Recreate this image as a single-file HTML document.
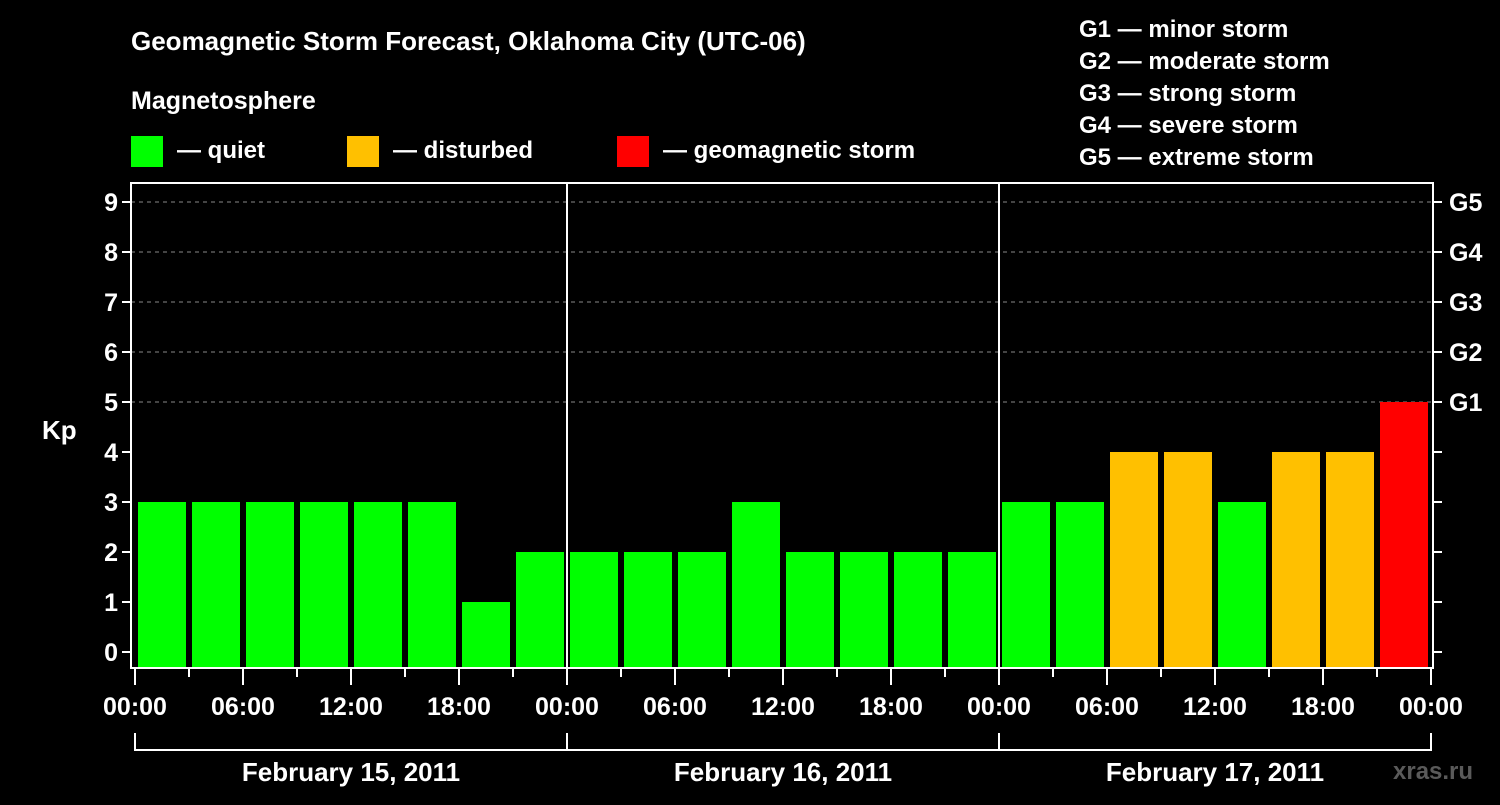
<!DOCTYPE html>
<html><head><meta charset="utf-8"><style>
body{margin:0;background:#000;width:1500px;height:800px;overflow:hidden}
svg text{font-family:"Liberation Sans",Arial,sans-serif;font-weight:bold;fill:#fff}
</style></head><body>
<svg id="c" width="1500" height="800">
<text x="131" y="50" font-size="26">Geomagnetic Storm Forecast, Oklahoma City (UTC-06)</text>
<text x="131" y="109" font-size="25">Magnetosphere</text>
<g>
<rect x="131" y="136" width="32" height="31" fill="#00ff00"/>
<text x="177" y="158" font-size="24">— quiet</text>
<rect x="347" y="136" width="32" height="31" fill="#ffc000"/>
<text x="393" y="158" font-size="24">— disturbed</text>
<rect x="617" y="136" width="32" height="31" fill="#ff0000"/>
<text x="663" y="158" font-size="24">— geomagnetic storm</text>
</g>
<g font-size="24">
<text x="1079" y="37">G1 — minor storm</text>
<text x="1079" y="69">G2 — moderate storm</text>
<text x="1079" y="101">G3 — strong storm</text>
<text x="1079" y="133">G4 — severe storm</text>
<text x="1079" y="165">G5 — extreme storm</text>
</g>
<text x="42" y="439" font-size="26">Kp</text>
<text x="1393" y="779" font-size="24" fill="#555" style="fill:#5a5a5a">xras.ru</text>
<g id="plot"></g>
</svg>
<script>
const days = ["February 15, 2011","February 16, 2011","February 17, 2011"];
const kpValues = [3,3,3,3,3,3,1,2, 2,2,2,3,2,2,2,2, 3,3,4,4,3,4,4,5];
const yTicks = [0,1,2,3,4,5,6,7,8,9];
const gLabels = ["G1","G2","G3","G4","G5"];
const xTickLabels = ["00:00","06:00","12:00","18:00"];

const NS="http://www.w3.org/2000/svg";
const plot=document.getElementById('plot');
const L=131,R=1433,T=183,B=668,X0=135,DAY=432;
const y=v=>652-50*v;
const x=i=>X0+i*DAY/8;
function mk(t,a,p){const e=document.createElementNS(NS,t);for(const k in a)e.setAttribute(k,a[k]);(p||plot).appendChild(e);return e;}

// grid dashed for 5..9
yTicks.forEach(v=>{
  if(v>=5){const g=mk('line',{x1:L,x2:R,y1:y(v),y2:y(v),stroke:'#888','stroke-dasharray':'4,4','stroke-width':1});
  
  }
});
// bars
kpValues.forEach((v,i)=>{
  const col=v>=5?'#ff0000':(v>=4?'#ffc000':'#00ff00');
  const r=mk('rect',{x:x(i)+3,y:y(v),width:48,height:B-1-y(v),fill:col});
  
  
});
// day separators
[1,2].forEach(d=>{const s=mk('line',{x1:X0+d*DAY,x2:X0+d*DAY,y1:T,y2:B,stroke:'#fff','stroke-width':2});

});
// frame
const f=mk('rect',{x:L,y:T,width:R-L,height:B-T,fill:'none',stroke:'#fff','stroke-width':2});


// y ticks left
yTicks.forEach(v=>{
  const l=mk('line',{x1:L-9,x2:L,y1:y(v),y2:y(v),stroke:'#fff','stroke-width':2});
  
  
  const t=mk('text',{x:L-13,y:y(v)+9,'font-size':25,'text-anchor':'end'});t.textContent=v;
  
  
  const r=mk('line',{x1:R,x2:R+9,y1:y(v),y2:y(v),stroke:'#fff','stroke-width':2});
  
  
  if(v>=5){const g=mk('text',{x:R+16,y:y(v)+9,'font-size':25});g.textContent=gLabels[v-5];
  
  }
});
// x ticks
for(let i=0;i<=24;i++){
  const major=i%2==0;
  const l=mk('line',{x1:x(i),x2:x(i),y1:B,y2:B+(major?17:9),stroke:'#fff','stroke-width':2});
  
  
  if(major){const t=mk('text',{x:x(i),y:715,'font-size':25,'text-anchor':'middle'});
  t.textContent=xTickLabels[(i/2)%4];
  
  }
}
// day brackets
const br=mk('line',{x1:X0,x2:X0+3*DAY,y1:750,y2:750,stroke:'#fff','stroke-width':2});


for(let d=0;d<=3;d++){const v=mk('line',{x1:X0+d*DAY,x2:X0+d*DAY,y1:733,y2:751,stroke:'#fff','stroke-width':2});

}
days.forEach((d,i)=>{const t=mk('text',{x:X0+DAY*i+DAY/2,y:781,'font-size':26,'text-anchor':'middle'});t.textContent=d;

});
</script>
</body></html>
